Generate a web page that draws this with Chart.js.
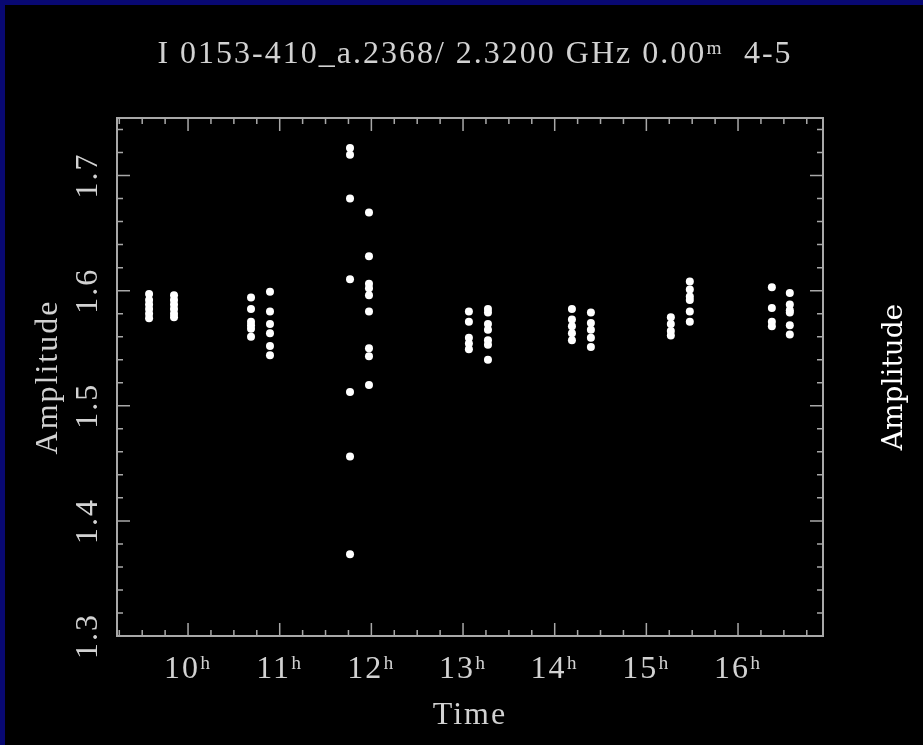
<!DOCTYPE html>
<html>
<head>
<meta charset="utf-8">
<script src="https://cdn.jsdelivr.net/npm/chart.js@4/dist/chart.umd.min.js"></script>
<style>
  html, body { margin: 0; padding: 0; background: #000; }
  #frame {
    width: 923px; height: 745px; box-sizing: border-box;
    border-left: 5px solid #080872; border-top: 5px solid #080872;
    background: #000;
  }
  canvas { display: block; }
</style>
</head>
<body>
<div id="frame"><canvas id="ampChart" width="918" height="740"></canvas></div>
<script>
// scan times (hours) and the amplitudes plotted in each scan
const scanHours = [9.575, 9.847, 10.687, 10.894, 11.767, 11.974, 13.064, 13.272, 14.188, 14.395, 15.267, 15.474, 16.369, 16.565];
const scanAmps = [
  [1.597, 1.592, 1.588, 1.584, 1.580, 1.576],
  [1.596, 1.592, 1.588, 1.584, 1.580, 1.577],
  [1.594, 1.584, 1.573, 1.570, 1.567, 1.560],
  [1.599, 1.582, 1.571, 1.563, 1.552, 1.544],
  [1.724, 1.718, 1.680, 1.610, 1.512, 1.456, 1.371],
  [1.668, 1.630, 1.606, 1.602, 1.596, 1.582, 1.550, 1.543, 1.518],
  [1.582, 1.573, 1.559, 1.554, 1.549],
  [1.584, 1.581, 1.571, 1.566, 1.557, 1.553, 1.540],
  [1.584, 1.575, 1.569, 1.563, 1.557],
  [1.581, 1.572, 1.566, 1.559, 1.551],
  [1.577, 1.571, 1.565, 1.561],
  [1.608, 1.601, 1.595, 1.592, 1.582, 1.573],
  [1.603, 1.585, 1.573, 1.569],
  [1.598, 1.588, 1.583, 1.581, 1.570, 1.562]
];

// axis ticks
const xTickHours = [10, 11, 12, 13, 14, 15, 16];
const yTickValues = [1.3, 1.4, 1.5, 1.6, 1.7];
const xMin = 9.225, xMax = 16.927;
const yMin = 1.3, yMax = 1.75;

const titleText = 'I 0153-410_a.2368/ 2.3200 GHz 0.00\u1D50  4-5';
const textColor = '#d2d2d2';
const axisColor = '#a8a8a8';

Chart.defaults.font.family = '"Liberation Serif", "DejaVu Serif", serif';
Chart.defaults.color = textColor;

// build points from the arrays
const points = [];
scanHours.forEach((h, i) => {
  scanAmps[i].forEach(a => points.push({ x: h, y: a }));
});

// frame, inward ticks and rotated y labels, like the old pgplot box
const boxPlugin = {
  id: 'boxPlugin',
  beforeDraw(chart) {
    // the old plot font is wide, spread the letters a bit
    chart.ctx.letterSpacing = '2px';
  },
  beforeDatasetsDraw(chart) {
    const { ctx, chartArea: a, scales: { x, y } } = chart;
    ctx.save();
    ctx.strokeStyle = axisColor;
    ctx.lineWidth = 2;
    ctx.strokeRect(a.left, a.top, a.right - a.left, a.bottom - a.top);
    ctx.lineWidth = 1.5;
    ctx.beginPath();
    // x ticks every quarter hour
    for (let h = 9.25; h < x.max; h += 0.25) {
      const px = x.getPixelForValue(h);
      const len = Number.isInteger(h) ? 13 : 6;
      ctx.moveTo(px, a.bottom); ctx.lineTo(px, a.bottom - len);
      ctx.moveTo(px, a.top); ctx.lineTo(px, a.top + len);
    }
    // y ticks every 0.02
    for (let i = 1; i < 23; i++) {
      const py = y.getPixelForValue(yMin + i * 0.02);
      const len = i % 5 === 0 ? 13 : 6;
      ctx.moveTo(a.left, py); ctx.lineTo(a.left + len, py);
      ctx.moveTo(a.right, py); ctx.lineTo(a.right - len, py);
    }
    ctx.stroke();
    ctx.restore();
  },
  afterDraw(chart) {
    const { ctx, chartArea: a, scales: { y } } = chart;
    ctx.save();
    ctx.fillStyle = textColor;
    ctx.font = '32px "Liberation Serif", serif';
    ctx.textAlign = 'center';
    ctx.textBaseline = 'middle';
    yTickValues.forEach(v => {
      ctx.save();
      ctx.translate(a.left - 28, y.getPixelForValue(v));
      ctx.rotate(-Math.PI / 2);
      ctx.fillText(v.toFixed(1), 0, 0);
      ctx.restore();
    });
    // second label on the right
    ctx.letterSpacing = '0px';
    ctx.fillStyle = '#ffffff';
    ctx.font = '28px "DejaVu Serif", serif';
    ctx.translate(a.right + 72, (a.top + a.bottom) / 2);
    ctx.rotate(-Math.PI / 2);
    ctx.fillText('Amplitude', 0, 0);
    ctx.restore();
  }
};

const ctx = document.getElementById('ampChart').getContext('2d');
const ampChart = new Chart(ctx, {
  type: 'scatter',
  data: {
    datasets: [{
      data: points,
      backgroundColor: '#ffffff',
      borderColor: '#ffffff',
      borderWidth: 0,
      pointRadius: 4
    }]
  },
  options: {
    responsive: false,
    animation: false,
    devicePixelRatio: 1,
    layout: { padding: { left: 22, right: 0, top: 0, bottom: 0 } },
    plugins: {
      legend: { display: false },
      tooltip: { enabled: false },
      title: {
        display: true,
        text: titleText,
        color: textColor,
        font: { size: 32, weight: 'normal' },
        padding: { top: 30, bottom: 44.6 }
      }
    },
    scales: {
      x: {
        type: 'linear',
        min: xMin,
        max: xMax,
        afterBuildTicks: s => { s.ticks = xTickHours.map(v => ({ value: v })); },
        afterFit: s => { s.height = 109; },
        grid: { display: false, drawTicks: false },
        border: { display: false },
        ticks: {
          color: textColor,
          font: { size: 32 },
          padding: 14,
          maxRotation: 0,
          autoSkip: false,
          callback: v => v + '\u02B0'
        },
        title: {
          display: true,
          text: 'Time',
          color: textColor,
          font: { size: 32 },
          padding: { top: 0, bottom: 10 }
        }
      },
      y: {
        min: yMin,
        max: yMax,
        afterFit: s => { s.width = 90; },
        grid: { display: false, drawTicks: false },
        border: { display: false },
        ticks: { display: false },
        title: {
          display: true,
          text: 'Amplitude',
          color: textColor,
          font: { size: 32 },
          padding: { top: 2, bottom: 0 }
        }
      },
      yRight: {
        position: 'right',
        afterFit: s => { s.width = 100; },
        grid: { display: false, drawTicks: false },
        border: { display: false },
        ticks: { display: false }
      }
    }
  },
  plugins: [boxPlugin]
});
</script>
</body>
</html>
